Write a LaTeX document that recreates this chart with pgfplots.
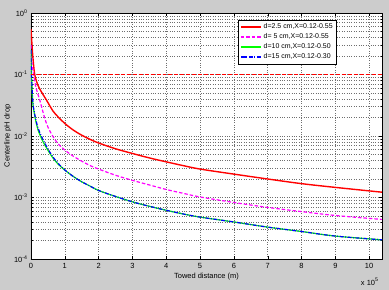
\documentclass[border=0pt]{standalone}
\usepackage{pgfplots}
\pgfplotsset{compat=1.18}
\usepackage{fontspec}
\setmainfont{Liberation Sans}

\definecolor{figbg}{RGB}{204,204,204}
\definecolor{gridgray}{RGB}{110,110,110}
\definecolor{mred}{RGB}{255,0,0}
\definecolor{mmag}{RGB}{255,0,255}
\definecolor{mgreen}{RGB}{0,255,0}
\definecolor{mblue}{RGB}{0,0,255}

% Centerline pH drop versus towed distance (x in units of 1e5 m)
\pgfplotstableread{
x      y
0      0.55
0.03   0.30
0.06   0.18
0.11   0.10
0.20   0.068
0.30   0.053
0.45   0.039
0.65   0.0255
0.80   0.0205
1.00   0.016
1.25   0.0125
1.50   0.0103
1.75   0.0088
2.00   0.0077
2.50   0.0062
3.00   0.0052
3.50   0.0044
4.00   0.0038
4.50   0.0033
5.00   0.0029
6.00   0.0024
7.00   0.0020
8.00   0.00168
9.00   0.00146
10.38  0.00122
}\dA

\pgfplotstableread{
x      y
0      0.30
0.03   0.15
0.08   0.10
0.15   0.060
0.25   0.040
0.40   0.020
0.50   0.014
0.65   0.0098
0.80   0.0075
1.00   0.0059
1.25   0.0047
1.50   0.0039
1.75   0.0033
2.00   0.0029
2.50   0.0023
3.00   0.0019
3.50   0.0016
4.00   0.00135
4.50   0.00117
5.00   0.00102
6.00   0.00083
7.00   0.00069
8.00   0.00059
9.00   0.00051
10.38  0.00044
}\dB

\pgfplotstableread{
x      y
0      0.25
0.01   0.11
0.05   0.037
0.10   0.023
0.20   0.013
0.36   0.0080
0.60   0.0048
0.80   0.0035
1.00   0.0028
1.25   0.0022
1.50   0.0018
1.75   0.00153
2.00   0.0013
2.50   0.00104
3.00   0.00085
3.50   0.00072
4.00   0.00062
4.50   0.00054
5.00   0.00048
6.00   0.00040
7.00   0.00033
8.00   0.00028
9.00   0.000236
10.38  0.000205
}\dC

\pgfplotstableread{
x      y
0      0.25
0.01   0.12
0.05   0.039
0.10   0.024
0.20   0.014
0.36   0.0086
0.60   0.0050
0.80   0.0036
1.00   0.0028
1.25   0.0022
1.50   0.0018
1.75   0.00153
2.00   0.0013
2.50   0.00104
3.00   0.00085
3.50   0.00072
4.00   0.00062
4.50   0.00054
5.00   0.00048
6.00   0.00040
7.00   0.00033
8.00   0.00028
9.00   0.000236
10.38  0.000205
}\dD

\begin{document}
\begin{tikzpicture}
\fill[figbg] (0,0) rectangle (389bp,290bp);
\begin{axis}[
  at={(31bp,31bp)}, anchor=south west,
  scale only axis, width=351bp, height=246bp,
  axis background/.style={fill=white},
  ymode=log, ymin=1e-4, ymax=1,
  xmin=0, xmax=10.38,
  xtick={0,1,...,10},
  xticklabels={0,1,2,3,4,5,6,7,8,9,10},
  ytick={1e-4,1e-3,1e-2,1e-1,1},
  yticklabels={10\textsuperscript{-4},10\textsuperscript{-3},10\textsuperscript{-2},10\textsuperscript{-1},10\textsuperscript{0}},
  tick align=inside, major tick length=3bp, minor tick length=1.5bp,
  tick style={black, line width=0.4pt},
  grid=both,
  major grid style={gridgray, dotted, line width=0.5pt},
  minor grid style={gridgray, dotted, line width=0.5pt},
  minor x tick num=0,
  axis line style={black, line width=0.5pt},
  ticklabel style={font=\fontsize{7.5}{9}\selectfont},
  xticklabel style={yshift=-1bp},
  xlabel={Towed distance (m)},
  ylabel={Centerline pH drop},
  label style={font=\fontsize{7.5}{9}\selectfont},
  xlabel style={yshift=3bp},
  ylabel style={yshift=-4bp},
  legend style={at={(0.59,0.9715)}, anchor=north west,
    font=\fontsize{7}{8.5}\selectfont,
    fill=white, inner xsep=2bp, inner ysep=1.5bp, row sep=-0.5bp},
  legend cell align=left,
  legend image code/.code={\draw[mark repeat=2,mark phase=2] plot coordinates {(0bp,0bp) (10bp,0bp) (20bp,0bp)};},
  clip=true,
]
\addplot[color=mred, line width=1.4pt, smooth, tension=0.55] table {\dA};
\addlegendentry{d=2.5 cm,X=0.12-0.55}
\addplot[color=mmag, line width=1.2pt, dash pattern=on 3.5pt off 2pt, smooth, tension=0.55] table {\dB};
\addlegendentry{d= 5 cm,X=0.12-0.55}
\addplot[color=mgreen, line width=1.2pt, smooth, tension=0.55] table {\dC};
\addlegendentry{d=10 cm,X=0.12-0.50}
\addplot[color=mblue, line width=1.2pt, dash pattern=on 4pt off 1.5pt on 1pt off 1.5pt, smooth, tension=0.55] table {\dD};
\addlegendentry{d=15 cm,X=0.12-0.30}
\addplot[color=mred, line width=1.2pt, dash pattern=on 4pt off 2pt, forget plot] coordinates {(0,0.1) (10.38,0.1)};
\end{axis}
\node[anchor=base east, font=\fontsize{7.5}{9}\selectfont] at (382bp,5bp) {x 10\textsuperscript{5}};
\end{tikzpicture}
\end{document}
